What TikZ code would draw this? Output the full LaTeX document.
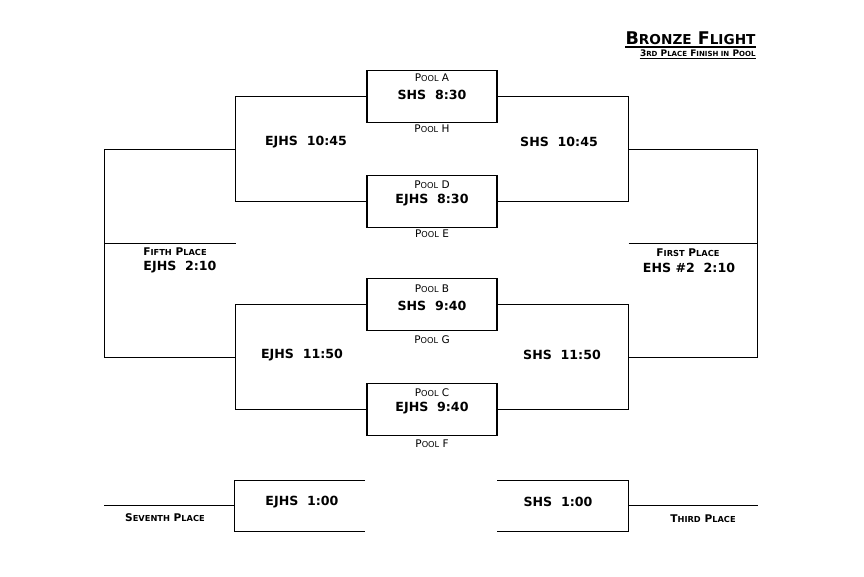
\documentclass[tikz,border=0pt]{standalone}
\usepackage{fontspec}
\setmainfont{DejaVu Sans}
\usetikzlibrary{positioning}
\makeatletter
\newcommand{\lo}[1]{{\fontsize{\the\dimexpr0.78\dimexpr\f@size pt\relax\relax}{0pt}\selectfont\MakeUppercase{#1}}}
\makeatother

\begin{document}
\begin{tikzpicture}[x=1pt, y=-1pt, line width=1pt,
	game/.style={draw, line width=1.2pt, minimum width=130pt, minimum height=52pt, inner sep=0pt},
	team/.style={font=\bfseries\fontsize{12.6}{14}\selectfont, inner sep=0pt},
	pool/.style={font=\fontsize{10.5}{12}\selectfont, inner sep=0pt},
	place/.style={font=\bfseries\fontsize{10.6}{12}\selectfont, inner sep=0pt}]
				\useasboundingbox (0,0) rectangle (864,576);
				
				\node[font=\bfseries\fontsize{17.5}{19}\selectfont, anchor=south east, inner sep=0pt] (title) at (756,45) {B\lo{ronze} F\lo{light}};
				\node[font=\bfseries\fontsize{9}{10}\selectfont, anchor=south east, inner sep=0pt] (sub) at (756,57) {3\lo{rd} P\lo{lace} F\lo{inish in} P\lo{ool}};
				\draw[line width=1.2pt] ([yshift=-2pt]title.south west) -- ([yshift=-2pt]title.south east);
				\draw[line width=0.8pt] ([yshift=-1.5pt]sub.south west) -- ([yshift=-1.5pt]sub.south east);
				
				\node[game] (A) at (432,96.5) {};
				\node[game] (D) at (432,201.5) {};
				\node[game] (B) at (432,304.5) {};
				\node[game] (C) at (432,409.5) {};
				
				\node[pool] (pA) at (432,78) {P\lo{ool} A};
				\node[team] (tA) at (432,95) {SHS\ \ 8:30};
				\node[pool] (pH) at (432,129) {P\lo{ool} H};
				\node[pool] (pD) at (432,185) {P\lo{ool} D};
				\node[team] (tD) at (432,200) {EJHS\ \ 8:30};
				\node[pool] (pE) at (432,234) {P\lo{ool} E};
				\node[pool] (pB) at (432,289) {P\lo{ool} B};
				\node[team] (tB) at (432,306) {SHS\ \ 9:40};
				\node[pool] (pG) at (432,340) {P\lo{ool} G};
				\node[pool] (pC) at (432,393) {P\lo{ool} C};
				\node[team] (tC) at (432,408) {EJHS\ \ 9:40};
				\node[pool] (pF) at (432,444) {P\lo{ool} F};
				
				\coordinate (sLa) at (235.5,149.5);
				\coordinate (sLb) at (235.5,357.5);
				\coordinate (sRa) at (628.5,149.5);
				\coordinate (sRb) at (628.5,357.5);
				\coordinate (fL) at (104.5,253.5);
				\coordinate (fR) at (757.5,253.5);
				\coordinate (p5a) at (104.5,243.5);
				\coordinate (p5b) at (235.5,243.5);
				\coordinate (p1a) at (628.5,243.5);
				\coordinate (p1b) at (757.5,243.5);
				
				\draw (A.west) -| (sLa) |- (D.west);
				\draw (B.west) -| (sLb) |- (C.west);
				\draw (A.east) -| (sRa) |- (D.east);
				\draw (B.east) -| (sRb) |- (C.east);
				\draw (sLa) -| (fL) |- (sLb);
				\draw (sRa) -| (fR) |- (sRb);
				\draw (p5a) -- (p5b);
				\draw (p1a) -- (p1b);
				
				\node[team] (sfLa) at (306,142) {EJHS\ \ 10:45};
				\node[team] (sfRa) at (559,142) {SHS\ \ 10:45};
				\node[team] (sfLb) at (302,355) {EJHS\ \ 11:50};
				\node[team] (sfRb) at (562,355) {SHS\ \ 11:50};
				\node[place] (fifth) at (175,252) {F\lo{ifth} P\lo{lace}};
				\node[team] (t5) at (180,267) {EJHS\ \ 2:10};
				\node[place] (first) at (688,253) {F\lo{irst} P\lo{lace}};
				\node[team] (t1) at (689,268) {EHS \#2\ \ 2:10};
				
				\coordinate (c7t) at (365,480.5);
				\coordinate (c7b) at (365,531.5);
				\coordinate (c7) at (234.5,505.5);
				\coordinate (p7) at (104,505.5);
				\coordinate (c3t) at (497,480.5);
				\coordinate (c3b) at (497,531.5);
				\coordinate (c3) at (628.5,505.5);
				\coordinate (p3) at (758,505.5);
				
				\draw (c7t) -| (c7) |- (c7b);
				\draw (c7) -- (p7);
				\draw (c3t) -| (c3) |- (c3b);
				\draw (c3) -- (p3);
				
				\node[team] (t7) at (302,502) {EJHS\ \ 1:00};
				\node[place] (seventh) at (165,518) {S\lo{eventh} P\lo{lace}};
				\node[team] (t3) at (558,502) {SHS\ \ 1:00};
				\node[place] (third) at (703,519) {T\lo{hird} P\lo{lace}};
			\end{tikzpicture}
\end{document}
